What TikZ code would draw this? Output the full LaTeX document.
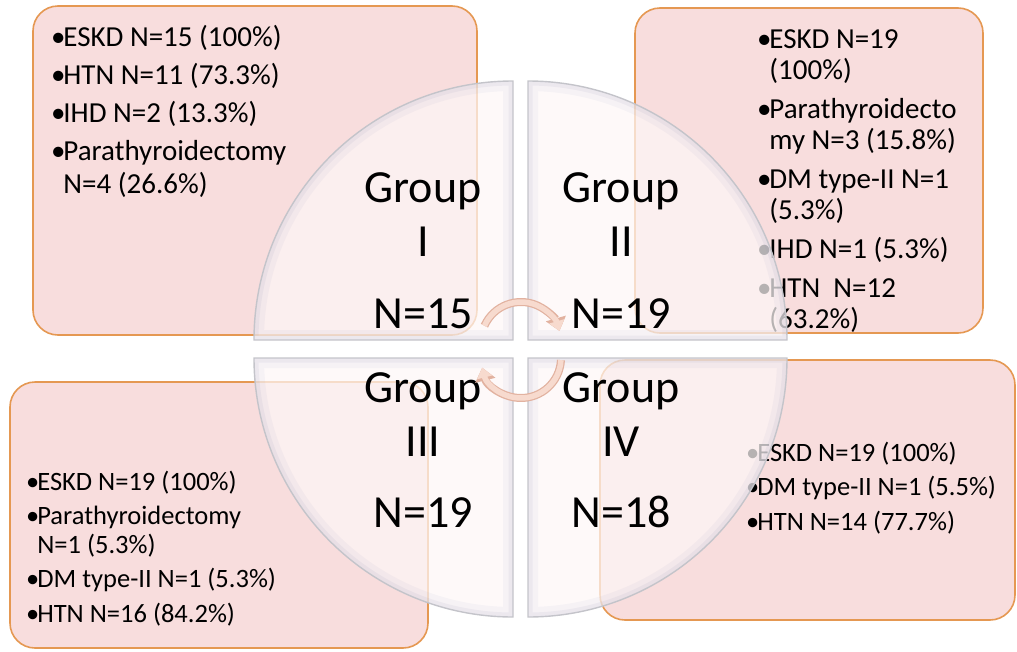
\documentclass[tikz,border=0pt]{standalone}
\usepackage{fontspec}
\setmainfont{Carlito}
\usetikzlibrary{arrows.meta}

\definecolor{boxfill}{RGB}{248,221,221}
\definecolor{boxedge}{RGB}{229,152,82}
\definecolor{quadfill}{RGB}{253,247,247}
\definecolor{quadedge}{RGB}{196,196,202}
\definecolor{rim}{RGB}{150,150,185}
\definecolor{arrfill}{RGB}{247,218,206}
\definecolor{arredge}{RGB}{226,178,160}

\newcommand{\bul}{\makebox[0.42em][l]{\textbullet}}
\newcommand{\cont}{\hspace*{0.42em}}

\begin{document}
\begin{tikzpicture}[x=1pt,y=-1pt,
  infobox/.style={fill=boxfill, draw=boxedge, line width=1.6pt, rounded corners=25pt},
  quad/.style={fill=quadfill, fill opacity=0.72},
  quadline/.style={draw=quadedge, line width=1.4pt},
  lst/.style={anchor=base west, align=left, inner sep=0pt},
  grp/.style={anchor=base, align=center, inner sep=0pt, font=\fontsize{46}{54}\selectfont},
  cyc/.style={line width=8pt, arredge, -{Triangle[length=13pt,width=20pt]}},
  cycin/.style={line width=5.5pt, arrfill, -{Triangle[length=10pt,width=15pt]}}]
  \useasboundingbox (0,0) rectangle (1017,651);

  % pink boxes with the risk factors
  \filldraw[infobox] (33,6) rectangle (477,335);
  \filldraw[infobox] (635,8) rectangle (983,333);
  \filldraw[infobox] (10,382) rectangle (428,648);
  \filldraw[infobox] (600,360) rectangle (1015,620);

  % (base of a multi-line node = last line)
  \node[lst, font=\fontsize{29}{33}\selectfont] (riskI) at (51,193)
    {\bul ESKD N=15 (100\%)\\[5pt]
     \bul HTN N=11 (73.3\%)\\[5pt]
     \bul IHD N=2 (13.3\%)\\[5pt]
     \bul Parathyroidectomy\\
     \cont N=4 (26.6\%)};
  \node[lst, font=\fontsize{29}{31}\selectfont] (riskII) at (757,328)
    {\bul ESKD N=19\\
     \cont (100\%)\\[8pt]
     \bul Parathyroidecto\\
     \cont my N=3 (15.8\%)\\[8pt]
     \bul DM type-II N=1\\
     \cont (5.3\%)\\[8pt]
     \bul IHD N=1 (5.3\%)\\[8pt]
     \bul HTN\ \ N=12\\
     \cont (63.2\%)};
  \node[lst, font=\fontsize{26.5}{28.5}\selectfont] (riskIII) at (26,622)
    {\bul ESKD N=19 (100\%)\\[6pt]
     \bul Parathyroidectomy\\
     \cont N=1 (5.3\%)\\[6pt]
     \bul DM type-II N=1 (5.3\%)\\[6pt]
     \bul HTN N=16 (84.2\%)};
  \node[lst, font=\fontsize{26.5}{28.5}\selectfont] (riskIV) at (746,530)
    {\bul ESKD N=19 (100\%)\\[6pt]
     \bul DM type-II N=1 (5.5\%)\\[6pt]
     \bul HTN N=14 (77.7\%)};

  % the four glass quadrants
  \foreach \cx/\cy/\s in {513/340/180, 528/340/270, 513/358/90, 528/358/0} {
    \begin{scope}
      \clip (\cx,\cy) -- ++(\s:259) arc[start angle=\s, end angle=\s+90, radius=259] -- cycle;
      \fill[quad] (\cx,\cy) -- ++(\s:259) arc[start angle=\s, end angle=\s+90, radius=259] -- cycle;
      \draw[rim, line width=20pt, opacity=0.07] (\cx,\cy) -- ++(\s:259) arc[start angle=\s, end angle=\s+90, radius=259] -- cycle;
      \draw[rim, line width=9pt, opacity=0.10] (\cx,\cy) -- ++(\s:259) arc[start angle=\s, end angle=\s+90, radius=259] -- cycle;
    \end{scope}
    \draw[quadline] (\cx,\cy) -- ++(\s:259) arc[start angle=\s, end angle=\s+90, radius=259] -- cycle;
  }

  \node[grp] (grpI) at (423,328) {Group\\I\\[18pt]N=15};
  \node[grp] (grpII) at (621,328) {Group\\II\\[18pt]N=19};
  \node[grp] (grpIII) at (423,527) {Group\\III\\[17pt]N=19};
  \node[grp] (grpIV) at (621,527) {Group\\IV\\[17pt]N=18};

  % cycle arrows in the middle
  \coordinate (hubtop) at (521,342);
  \coordinate (hubbot) at (521,358);
  \draw[cyc] (hubtop) ++(204:40) arc[start angle=204, end angle=344, radius=40];
  \draw[cycin] (hubtop) ++(204:40) arc[start angle=204, end angle=344, radius=40];
  \draw[cyc] (hubbot) ++(3:40) arc[start angle=3, end angle=166, radius=40];
  \draw[cycin] (hubbot) ++(3:40) arc[start angle=3, end angle=166, radius=40];
\end{tikzpicture}
\end{document}
